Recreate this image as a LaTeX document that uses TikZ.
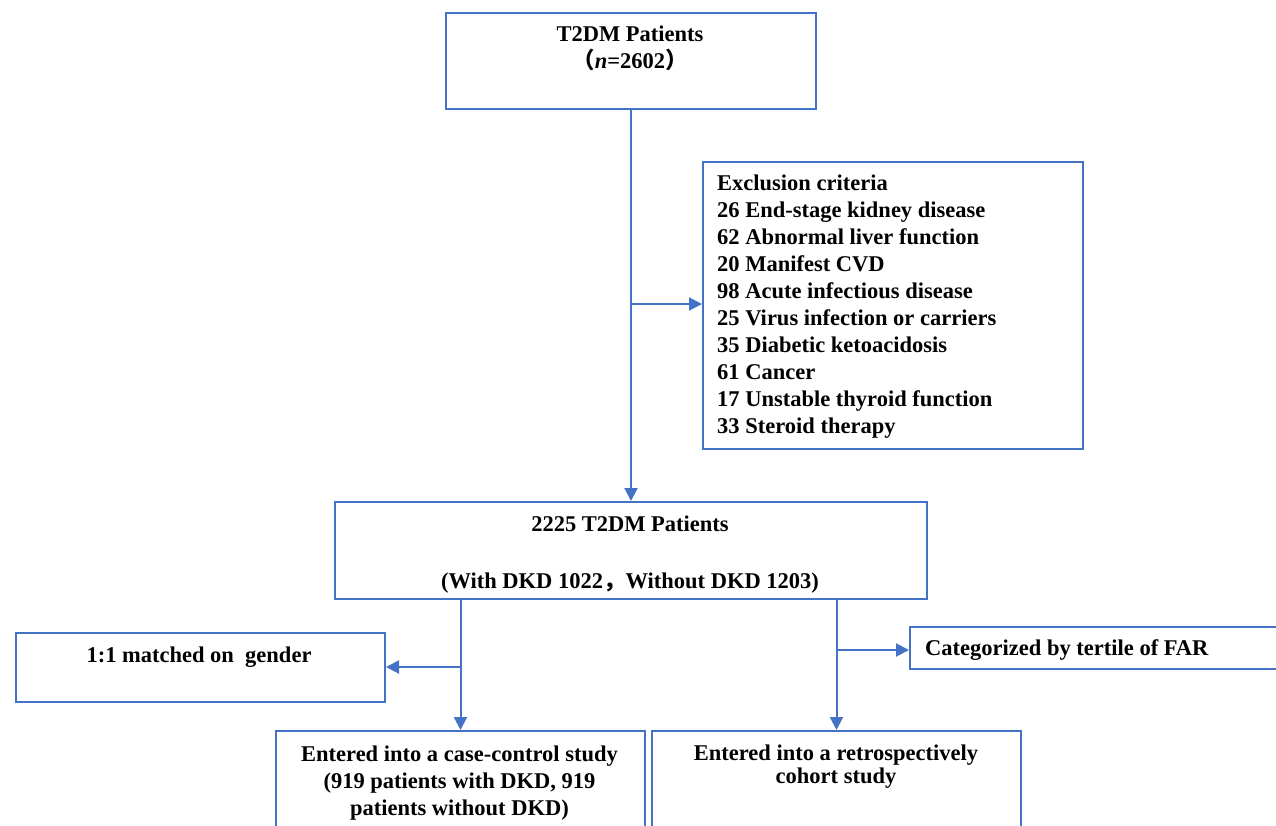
\documentclass[tikz,border=0pt]{standalone}
\usepackage{fontspec}
\setmainfont{Liberation Serif}
\newfontfamily\cjk{Noto Sans CJK SC}
\usetikzlibrary{arrows.meta}
\definecolor{boxblue}{HTML}{4472C4}
\tikzset{
  box/.style={draw=boxblue, line width=2pt, rectangle, inner sep=0pt, anchor=north west},
  txt/.style={font=\fontsize{22.5}{27}\selectfont\bfseries, inner sep=0pt, text=black},
  arr/.style={draw=boxblue, line width=2pt, -{Triangle[length=13pt,width=13pt]}}
}
\begin{document}
\begin{tikzpicture}[x=1pt,y=-1pt]
\useasboundingbox (0,0) rectangle (1276,825);
\clip (0,0) rectangle (1276,825);
% boxes
\node[box, minimum width=370pt, minimum height=96pt] (top) at (445,12) {};
\node[box, minimum width=380pt, minimum height=287pt] (excl) at (702,161) {};
\node[box, minimum width=592pt, minimum height=97pt] (mid) at (334,501) {};
\node[box, minimum width=369pt, minimum height=69pt] (lbox) at (15,632) {};
\node[box, minimum width=380pt, minimum height=42pt] (cat) at (909,626) {};
\node[box, minimum width=369pt, minimum height=120pt] (bl) at (275,730) {};
\node[box, minimum width=369pt, minimum height=120pt] (br) at (651,730) {};
% texts (base anchor = baseline of last line)
\node[txt, anchor=base, align=center] (toptxt) at (630,68) {T2DM Patients\\{\cjk （}\textit{n}=2602{\cjk ）}};
\node[txt, anchor=base west, align=left] (excltxt) at (717,433) {Exclusion criteria\\
26 End-stage kidney disease\\
62 Abnormal liver function\\
20 Manifest CVD\\
98 Acute infectious disease\\
25 Virus infection or carriers\\
35 Diabetic ketoacidosis\\
61 Cancer\\
17 Unstable thyroid function\\
33 Steroid therapy};
\node[txt, anchor=base, align=center] (midtxt) at (630,588) {2225 T2DM Patients\\[30pt](With DKD 1022{\cjk ，}Without DKD 1203)};
\node[txt, anchor=base] (ltxt) at (199,662) {1:1 matched on\ \ gender};
\node[txt, anchor=base west] (cattxt) at (925,655) {Categorized by tertile of FAR};
\node[txt, anchor=base, align=center] (bltxt) at (459.5,815) {Entered into a case-control study\\(919 patients with DKD, 919\\patients without DKD)};
\node[txt, anchor=base, align=center, font=\fontsize{22.5}{22.5}\selectfont\bfseries] (brtxt) at (836,783) {Entered into a retrospectively\\cohort study};
% connectors
\draw[arr] (top.south) -- (mid.north);
\coordinate (b1) at (630,304);
\draw[arr] (b1) -- (b1 -| excl.west);
\draw[arr] (bl.north |- mid.south) -- (bl.north);
\coordinate (b2) at (459.5,667);
\draw[arr] (b2) -- (b2 -| lbox.east);
\draw[arr] (br.north |- mid.south) -- (br.north);
\coordinate (b3) at (835.5,650);
\draw[arr] (b3) -- (b3 -| cat.west);
\end{tikzpicture}
\end{document}
